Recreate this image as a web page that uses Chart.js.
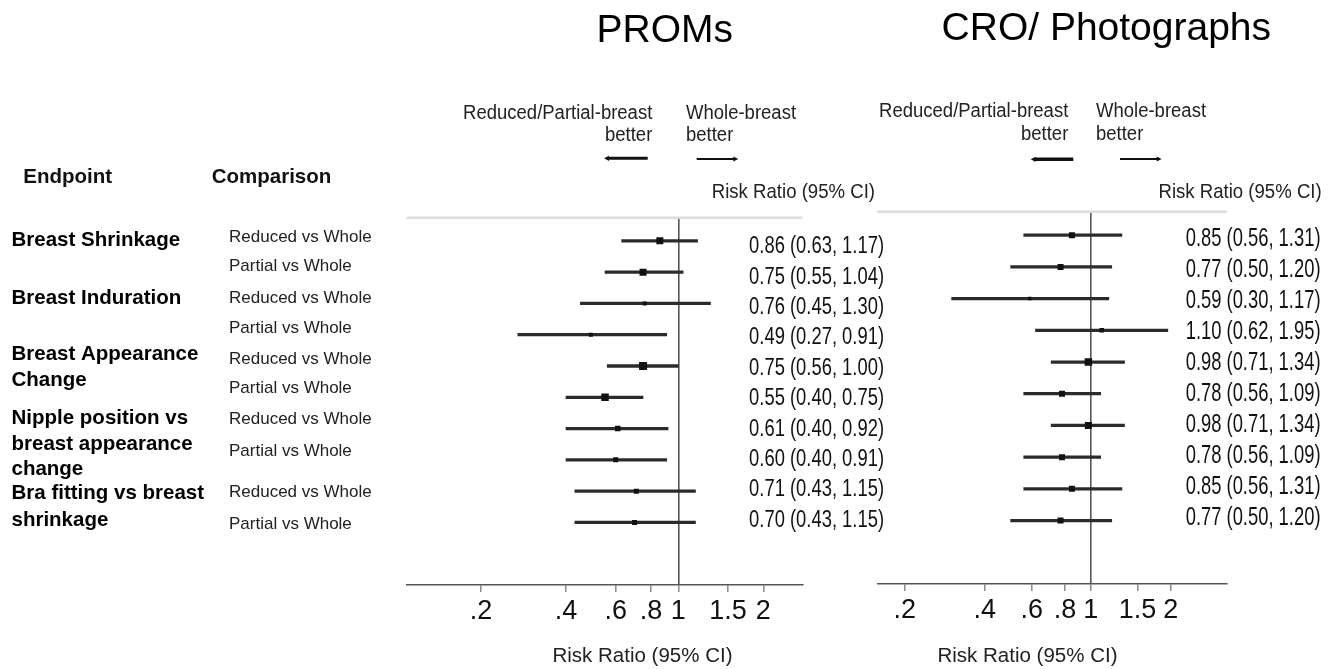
<!DOCTYPE html>
<html><head><meta charset="utf-8">
<script src="https://cdn.jsdelivr.net/npm/chart.js@4.4.1/dist/chart.umd.min.js"></script>
<style>
html,body{margin:0;padding:0;background:#fff;}
#wrap{position:relative;width:1337px;height:669px;overflow:hidden;background:#fff;}
canvas{position:absolute;left:0;top:0;}
</style></head><body>
<div id="wrap"><canvas id="c1" width="1337" height="669"></canvas><canvas id="c2" width="1337" height="669"></canvas></div>
<script>
// ---------------- DATA ----------------
const panelTitles = ["PROMs", "CRO/ Photographs"];
const endpoints = [
  ["Breast Shrinkage"],
  ["Breast Induration"],
  ["Breast Appearance", "Change"],
  ["Nipple position vs", "breast appearance", "change"],
  ["Bra fitting vs breast", "shrinkage"]
];
const comparisons = ["Reduced vs Whole","Partial vs Whole","Reduced vs Whole","Partial vs Whole","Reduced vs Whole",
                     "Partial vs Whole","Reduced vs Whole","Partial vs Whole","Reduced vs Whole","Partial vs Whole"];
const rows = [1,2,3,4,5,6,7,8,9,10];

const promsRR = [0.86, 0.75, 0.76, 0.49, 0.75, 0.55, 0.61, 0.60, 0.71, 0.70];
const promsLo = [0.63, 0.55, 0.45, 0.27, 0.56, 0.40, 0.40, 0.40, 0.43, 0.43];
const promsHi = [1.17, 1.04, 1.30, 0.91, 1.00, 0.75, 0.92, 0.91, 1.15, 1.15];

const croRR = [0.85, 0.77, 0.59, 1.10, 0.98, 0.78, 0.98, 0.78, 0.85, 0.77];
const croLo = [0.56, 0.50, 0.30, 0.62, 0.71, 0.56, 0.71, 0.56, 0.56, 0.50];
const croHi = [1.31, 1.20, 1.17, 1.95, 1.34, 1.09, 1.34, 1.09, 1.31, 1.20];

const xTickValues = [0.2, 0.4, 0.6, 0.8, 1, 1.5, 2];
const xTickLabels = [".2", ".4", ".6", ".8", "1", "1.5", "2"];
const axisTitle = "Risk Ratio (95% CI)";
const leftDir = ["Reduced/Partial-breast", "better"];
const rightDir = ["Whole-breast", "better"];

// ---------------- STYLE / LAYOUT ----------------
const FONT = '"Liberation Sans", Arial, Helvetica, sans-serif';
const promsMarkerSide = [7, 7, 4, 4, 8, 7.5, 5.5, 5, 5, 5];
const croMarkerSide   = [6, 6, 3.5, 4.5, 7.5, 6, 7, 6, 6, 6];

const layout = {
  left: {
    area: {l: 406.7, r: 802.3, t: 217.7, b: 585},
    xmin: 0.1091, xmax: 2.749,
    title: {x: 664.7, y: 41.7},
    dirL: {x: 652.3, y1: 119.3, y2: 140.7},
    dirR: {x: 686, y1: 119.3, y2: 140.7},
    arrowL: {x1: 604, x2: 647.7, y: 158.3, w: 3},
    arrowR: {x1: 696.7, x2: 738.3, y: 159, w: 2},
    header: {x: 875, y: 198.3},
    labels: {x: 884, y0: 253.3, dy: 30.37, size: 24.2, sx: 0.76},
    bottomTitle: {x: 642.5, y: 662}
  },
  right: {
    area: {l: 877.3, r: 1226.7, t: 211.7, b: 584},
    xmin: 0.1576, xmax: 3.246,
    title: {x: 1106.3, y: 40},
    dirL: {x: 1068.3, y1: 117.3, y2: 140},
    dirR: {x: 1096, y1: 117.3, y2: 140},
    arrowL: {x1: 1030.7, x2: 1073.3, y: 159.3, w: 3.5},
    arrowR: {x1: 1120, x2: 1161.7, y: 159, w: 2},
    header: {x: 1321.7, y: 198.3},
    labels: {x: 1320.5, y0: 245.5, dy: 31.07, size: 25, sx: 0.735},
    bottomTitle: {x: 1027.5, y: 662}
  },
  endpointX: 11.5,
  endpointBaselines: [[246], [304], [360, 386], [424, 449.5, 474.5], [499, 526]],
  comparisonX: 229,
  comparisonBaselines: [241.7, 271, 302.7, 332.7, 364, 393.3, 424, 456, 496.7, 529.3],
  headEndpoint: {x: 23.3, y: 182.7},
  headComparison: {x: 211.7, y: 182.7}
};

// ---------------- HELPERS ----------------
function txt(ctx, s, x, y, o) {
  ctx.save();
  ctx.translate(x, y);
  ctx.scale(o.sx || 1, o.sy || 1);
  ctx.font = (o.bold ? 'bold ' : '') + o.size + 'px ' + FONT;
  ctx.textAlign = o.align || 'left';
  ctx.textBaseline = 'alphabetic';
  ctx.fillStyle = o.color || '#111';
  ctx.fillText(s, 0, 0);
  ctx.restore();
}
function arrow(ctx, x1, x2, y, w, headLeft) {
  ctx.save();
  ctx.strokeStyle = '#111'; ctx.fillStyle = '#111'; ctx.lineWidth = w;
  const hl = 5, hw = 2.6;
  ctx.beginPath();
  if (headLeft) { ctx.moveTo(x1 + hl - 1, y); ctx.lineTo(x2, y); }
  else { ctx.moveTo(x1, y); ctx.lineTo(x2 - hl + 1, y); }
  ctx.stroke();
  ctx.beginPath();
  if (headLeft) { ctx.moveTo(x1, y); ctx.lineTo(x1 + hl, y - hw); ctx.lineTo(x1 + hl, y + hw); }
  else { ctx.moveTo(x2, y); ctx.lineTo(x2 - hl, y - hw); ctx.lineTo(x2 - hl, y + hw); }
  ctx.closePath(); ctx.fill();
  ctx.restore();
}

function panelPlugin(L, title, rr, lo, hi, drawLeftText) {
  return {
    id: 'panelText',
    beforeDatasetsDraw(chart) {
      const ctx = chart.ctx, a = chart.chartArea;
      ctx.save();
      ctx.strokeStyle = '#dcdcdc'; ctx.lineWidth = 2.5;
      ctx.beginPath(); ctx.moveTo(a.left, a.top); ctx.lineTo(a.right, a.top); ctx.stroke();
      ctx.restore();
    },
    afterDraw(chart) {
      const ctx = chart.ctx;
      txt(ctx, title, L.title.x, L.title.y, {size: 39, align: 'center', color: '#000'});
      const dOpt = {size: 18.5, sy: 1.08, color: '#222'};
      txt(ctx, leftDir[0], L.dirL.x, L.dirL.y1, Object.assign({align: 'right'}, dOpt));
      txt(ctx, leftDir[1], L.dirL.x, L.dirL.y2, Object.assign({align: 'right'}, dOpt));
      txt(ctx, rightDir[0], L.dirR.x, L.dirR.y1, Object.assign({align: 'left'}, dOpt));
      txt(ctx, rightDir[1], L.dirR.x, L.dirR.y2, Object.assign({align: 'left'}, dOpt));
      arrow(ctx, L.arrowL.x1, L.arrowL.x2, L.arrowL.y, L.arrowL.w, true);
      arrow(ctx, L.arrowR.x1, L.arrowR.x2, L.arrowR.y, L.arrowR.w, false);
      txt(ctx, axisTitle, L.header.x, L.header.y, {size: 18.6, sy: 1.08, align: 'right', color: '#222'});
      for (let i = 0; i < rr.length; i++) {
        const s = rr[i].toFixed(2) + ' (' + lo[i].toFixed(2) + ', ' + hi[i].toFixed(2) + ')';
        txt(ctx, s, L.labels.x, L.labels.y0 + i * L.labels.dy, {size: L.labels.size, sx: L.labels.sx, align: 'right', color: '#111'});
      }
      txt(ctx, axisTitle, L.bottomTitle.x, L.bottomTitle.y, {size: 20.5, align: 'center', color: '#222'});
      if (drawLeftText) {
        txt(ctx, 'Endpoint', layout.headEndpoint.x, layout.headEndpoint.y, {size: 20.5, bold: true, color: '#111'});
        txt(ctx, 'Comparison', layout.headComparison.x, layout.headComparison.y, {size: 20.5, bold: true, color: '#111'});
        endpoints.forEach((lines, k) => lines.forEach((s, j) =>
          txt(ctx, s, layout.endpointX, layout.endpointBaselines[k][j], {size: 20.5, bold: true, color: '#000'})));
        comparisons.forEach((s, i) =>
          txt(ctx, s, layout.comparisonX, layout.comparisonBaselines[i], {size: 17, color: '#222'}));
      }
    }
  };
}

function makeForest(id, L, title, rr, lo, hi, sides, drawLeftText) {
  const a = L.area;
  return new Chart(document.getElementById(id), {
    type: 'scatter',
    data: {
      datasets: [
        {
          type: 'scatter',
          order: 0,
          data: rows.map((r, i) => ({x: rr[i], y: r})),
          pointStyle: 'rect',
          pointRadius: sides.map(s => s / Math.SQRT2),
          pointHoverRadius: sides.map(s => s / Math.SQRT2),
          backgroundColor: '#111',
          borderWidth: 0
        },
        {
          type: 'bar',
          order: 1,
          indexAxis: 'y',
          data: rows.map((r, i) => ({x: [lo[i], hi[i]], y: r})),
          backgroundColor: '#2b2b2b',
          borderWidth: 0,
          barThickness: 2.6,
          grouped: false
        }
      ]
    },
    options: {
      responsive: false,
      animation: false,
      events: [],
      layout: {padding: {left: a.l, right: 1337 - a.r, top: a.t, bottom: 0}},
      plugins: {legend: {display: false}, tooltip: {enabled: false}},
      scales: {
        x: {
          type: 'logarithmic',
          min: L.xmin, max: L.xmax,
          bounds: 'data',
          afterBuildTicks: (s) => { s.ticks = xTickValues.map(v => ({value: v})); },
          afterFit: (s) => { s.height = 669 - a.b; },
          ticks: {
            autoSkip: false, maxRotation: 0, minRotation: 0, padding: 3,
            color: '#111',
            font: {family: FONT, size: 27},
            callback: (v) => { const k = xTickValues.indexOf(v); return k >= 0 ? xTickLabels[k] : ''; }
          },
          grid: {
            drawOnChartArea: true,
            color: (c) => (c.tick && c.tick.value === 1) ? '#555' : 'rgba(0,0,0,0)',
            lineWidth: 1.6,
            tickColor: '#888',
            tickWidth: 1.5,
            tickLength: 7
          },
          border: {display: true, color: '#555', width: 1.5}
        },
        y: {
          type: 'linear', reverse: true, min: 0.26, max: 12.0, display: false, offset: false
        }
      }
    },
    plugins: [panelPlugin(L, title, rr, lo, hi, drawLeftText)]
  });
}

makeForest('c1', layout.left, panelTitles[0], promsRR, promsLo, promsHi, promsMarkerSide, true);
makeForest('c2', layout.right, panelTitles[1], croRR, croLo, croHi, croMarkerSide, false);
</script>
</body></html>
